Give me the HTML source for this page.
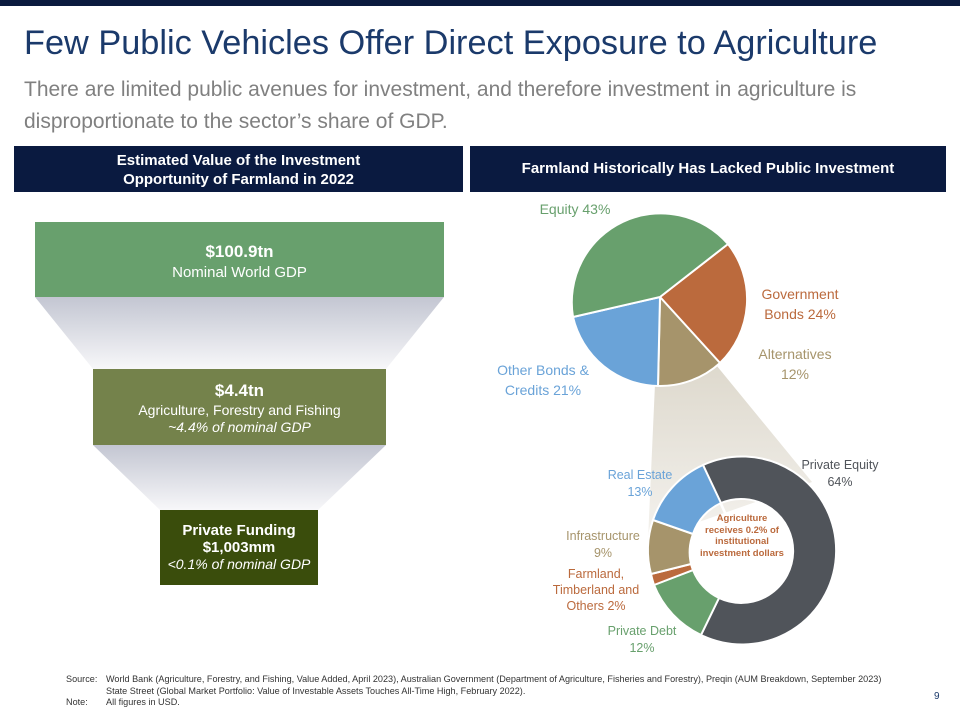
<!DOCTYPE html>
<html><head><meta charset="utf-8"><style>
body{margin:0;width:960px;height:720px;background:#fff;font-family:"Liberation Sans",sans-serif;position:relative;overflow:hidden}
.a{position:absolute}
</style></head><body>
<div class="a" style="left:0;top:0;width:960px;height:6px;background:#0b1a3e"></div>
<div class="a" style="left:24px;top:24px;font-size:34.3px;color:#1b3a6b;white-space:nowrap">Few Public Vehicles Offer Direct Exposure to Agriculture</div>
<div class="a" style="left:24px;top:74px;font-size:21px;color:#808080;line-height:32px;width:900px">There are limited public avenues for investment, and therefore investment in agriculture is disproportionate to the sector’s share of GDP.</div>
<div class="a" style="left:14px;top:146px;width:449px;height:46px;background:#0a1a40;color:#fff;font-weight:bold;font-size:15px;text-align:center;line-height:19px;padding-top:5px;box-sizing:border-box">Estimated Value of the Investment<br>Opportunity of Farmland in 2022</div>
<div class="a" style="left:470px;top:146px;width:476px;height:46px;background:#0a1a40;color:#fff;font-weight:bold;font-size:15px;text-align:center;line-height:46px">Farmland Historically Has Lacked Public Investment</div>
<svg class="a" style="left:0;top:0" width="960" height="720">
<defs>
<linearGradient id="g" x1="0" y1="0" x2="0" y2="1"><stop offset="0" stop-color="#c3c6d2"/><stop offset="1" stop-color="#f7f7f9"/></linearGradient>
<linearGradient id="g2" x1="0" y1="0" x2="0" y2="1"><stop offset="0" stop-color="#ddd8cc"/><stop offset="1" stop-color="#f4f2ee"/></linearGradient>
</defs>
<polygon points="35,297 444,297 386,369 93,369" fill="url(#g)"/>
<polygon points="93,445 386,445 318,510 160,510" fill="url(#g)"/>
<rect x="35" y="222" width="409" height="75" fill="#68a06d"/>
<rect x="93" y="369" width="293" height="76" fill="#74824b"/>
<rect x="160" y="510" width="158" height="75" fill="#3a4d0c"/>
<polygon points="655,384 712,360 812,482 648,540" fill="url(#g2)"/>
<g stroke="#fff" stroke-width="2">
<path d="M660,297 L728,244 A89,89 0 0 1 720,363 Z" fill="#bb6a3d"/>
<path d="M660,297 L720,363 A89,89 0 0 1 658,386 Z" fill="#a6946b"/>
<path d="M660,297 L658,386 A89,89 0 0 1 573,317 Z" fill="#6aa3d8"/>
<path d="M660,297 L573,317 A89,89 0 0 1 728,244 Z" fill="#68a06d"/>
<path d="M742,551 L703,465 A94,94 0 1 1 701,635 L719,598 A52,52 0 1 0 721,503 Z" fill="#50545a"/>
<path d="M701,635 A94,94 0 0 1 654,585 L693,570 A52,52 0 0 0 719,598 Z" fill="#68a06d"/>
<path d="M654,585 A94,94 0 0 1 651,574 L691,564 A52,52 0 0 0 693,570 Z" fill="#bb6a3d"/>
<path d="M651,574 A94,94 0 0 1 653,520 L693,534 A52,52 0 0 0 691,564 Z" fill="#a6946b"/>
<path d="M653,520 A94,94 0 0 1 703,465 L721,503 A52,52 0 0 0 693,534 Z" fill="#6aa3d8"/>
</g>
</svg>
<div class="a" style="left:35px;top:242px;width:409px;text-align:center;color:#fff;font-size:15px;line-height:20px"><b style="font-size:17px">$100.9tn</b><br>Nominal World GDP</div>
<div class="a" style="left:93px;top:380px;width:293px;text-align:center;color:#fff;font-size:14px;line-height:17px"><b style="font-size:17px;line-height:22px">$4.4tn</b><br>Agriculture, Forestry and Fishing<br><i>~4.4% of nominal GDP</i></div>
<div class="a" style="left:160px;top:522px;width:158px;text-align:center;color:#fff;font-size:14px;line-height:17px"><b style="font-size:15px">Private Funding<br>$1,003mm</b><br><i>&lt;0.1% of nominal GDP</i></div>
<div class="a" style="left:530px;top:201px;width:90px;text-align:center;color:#68a06d;font-size:14px">Equity 43%</div>
<div class="a" style="left:740px;top:284px;width:120px;text-align:center;color:#bb6a3d;font-size:14px;line-height:20px">Government<br>Bonds 24%</div>
<div class="a" style="left:730px;top:344px;width:130px;text-align:center;color:#a6946b;font-size:14px;line-height:20px">Alternatives<br>12%</div>
<div class="a" style="left:478px;top:360px;width:130px;text-align:center;color:#6aa3d8;font-size:14px;line-height:20px">Other Bonds &amp;<br>Credits 21%</div>
<div class="a" style="left:790px;top:457px;width:100px;text-align:center;color:#50545a;font-size:12.5px;line-height:17px">Private Equity<br>64%</div>
<div class="a" style="left:590px;top:467px;width:100px;text-align:center;color:#6aa3d8;font-size:12.5px;line-height:17px">Real Estate<br>13%</div>
<div class="a" style="left:553px;top:528px;width:100px;text-align:center;color:#a6946b;font-size:12.5px;line-height:17px">Infrastructure<br>9%</div>
<div class="a" style="left:540px;top:566px;width:112px;text-align:center;color:#bb6a3d;font-size:12.5px;line-height:16px">Farmland,<br>Timberland and<br>Others 2%</div>
<div class="a" style="left:592px;top:623px;width:100px;text-align:center;color:#68a06d;font-size:12.5px;line-height:17px">Private Debt<br>12%</div>
<div class="a" style="left:700px;top:513px;width:84px;text-align:center;color:#bb6a3d;font-size:9.5px;font-weight:bold;line-height:11.5px">Agriculture receives 0.2% of institutional investment dollars</div>
<div class="a" style="left:66px;top:674px;font-size:9.1px;color:#333;line-height:11.5px;width:860px">
<div style="display:flex"><span style="width:40px">Source:</span><span>World Bank (Agriculture, Forestry, and Fishing, Value Added, April 2023), Australian Government (Department of Agriculture, Fisheries and Forestry), Preqin (AUM Breakdown, September 2023)<br>State Street (Global Market Portfolio: Value of Investable Assets Touches All-Time High, February 2022).</span></div>
<div style="display:flex"><span style="width:40px">Note:</span><span>All figures in USD.</span></div></div>
<div class="a" style="left:934px;top:691px;font-size:10px;color:#1b3a6b">9</div>
</body></html>
